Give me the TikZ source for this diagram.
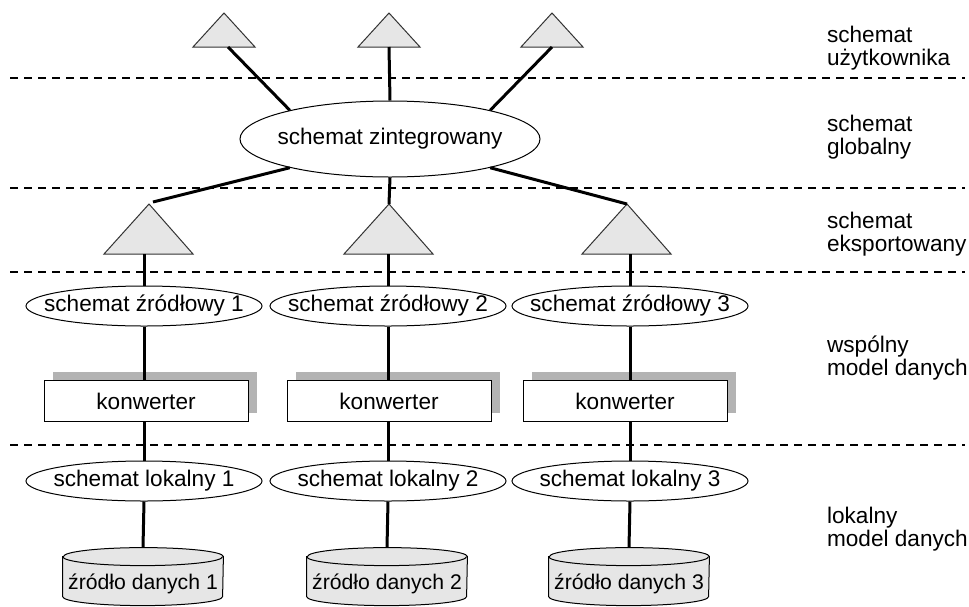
\documentclass[tikz,border=0pt]{standalone}
\usepackage{fontspec}
\setmainfont{Liberation Sans}
\usetikzlibrary{shapes.geometric,shadows,backgrounds}
\definecolor{trifill}{HTML}{E6E6E6}
\definecolor{shadowgray}{HTML}{B3B3B3}

\begin{document}
\begin{tikzpicture}[x=0.5pt, y=-0.5pt,
font=\fontsize{11.3}{11.5}\selectfont,
ovalnode/.style={ellipse, draw=black, line width=0.5pt, fill=white, inner xsep=-10pt, inner ysep=0pt, minimum width=118pt, minimum height=20pt},
globnode/.style={ellipse, draw=black, line width=0.5pt, inner xsep=-10pt, inner ysep=0pt, minimum width=150pt, minimum height=38pt},
convnode/.style={rectangle, draw=black, line width=0.5pt, fill=white, minimum width=102pt, minimum height=20.5pt, drop shadow={shadow xshift=4.5pt, shadow yshift=4.5pt, fill=shadowgray, opacity=1}},
dbnode/.style={rectangle, inner xsep=0pt, minimum width=80pt, minimum height=36pt, font=\fontsize{10.6}{11}\selectfont},
dbshape/.style={fill=trifill, draw=black, line width=0.5pt},
trishape/.style={fill=trifill, draw=black!80, line width=0.5pt},
labelnode/.style={anchor=west, align=left},
link/.style={line width=1.5pt},
layerline/.style={line width=1pt, dash pattern=on 4pt off 3pt},
]
\useasboundingbox (0,0) rectangle (969,606);

%Layers
\draw[layerline] (10,78) -- (965,78);
\draw[layerline] (10,188) -- (965,188);
\draw[layerline] (10,272) -- (965,272);
\draw[layerline] (10,445) -- (965,445);

%Nodes
\node[globnode]   (glob)   at (390,139)  {schemat zintegrowany};
\node[ovalnode]   (src1)   at (144,306)  {schemat źródłowy 1};
\node[ovalnode]   (src2)   at (388,306)  {schemat źródłowy 2};
\node[ovalnode]   (src3)   at (630,306)  {schemat źródłowy 3};
\node[convnode]   (conv1)  at (146,401)  {konwerter};
\node[convnode]   (conv2)  at (389,401)  {konwerter};
\node[convnode]   (conv3)  at (625,401)  {konwerter};
\node[ovalnode]   (loc1)   at (144,481)  {schemat lokalny 1};
\node[ovalnode]   (loc2)   at (388,481)  {schemat lokalny 2};
\node[ovalnode]   (loc3)   at (630,481)  {schemat lokalny 3};
\node[dbnode]     (db1)    at (143,584)  {źródło danych 1};
\node[dbnode]     (db2)    at (387,584)  {źródło danych 2};
\node[dbnode]     (db3)    at (629,584)  {źródło danych 3};

\node[labelnode]  (lab1)   at (820,48)   {schemat\\użytkownika};
\node[labelnode]  (lab2)   at (820,137)  {schemat\\globalny};
\node[labelnode]  (lab3)   at (820,234)  {schemat\\eksportowany};
\node[labelnode]  (lab4)   at (820,358)  {wspólny\\model danych};
\node[labelnode]  (lab5)   at (820,529)  {lokalny\\model danych};

%Cylinders
\begin{scope}[on background layer]
\filldraw[dbshape] ([yshift=-4.5pt]db1.north west) -- ([yshift=-24.5pt]db1.north west) arc[start angle=180, end angle=360, x radius=40pt, y radius=4.5pt] -- ([yshift=-4.5pt]db1.north east) arc[start angle=0, end angle=180, x radius=40pt, y radius=4.5pt] -- cycle;
\draw[line width=0.5pt] ([yshift=-4.5pt]db1.north west) arc[start angle=180, end angle=360, x radius=40pt, y radius=4.5pt];
\filldraw[dbshape] ([yshift=-4.5pt]db2.north west) -- ([yshift=-24.5pt]db2.north west) arc[start angle=180, end angle=360, x radius=40pt, y radius=4.5pt] -- ([yshift=-4.5pt]db2.north east) arc[start angle=0, end angle=180, x radius=40pt, y radius=4.5pt] -- cycle;
\draw[line width=0.5pt] ([yshift=-4.5pt]db2.north west) arc[start angle=180, end angle=360, x radius=40pt, y radius=4.5pt];
\filldraw[dbshape] ([yshift=-4.5pt]db3.north west) -- ([yshift=-24.5pt]db3.north west) arc[start angle=180, end angle=360, x radius=40pt, y radius=4.5pt] -- ([yshift=-4.5pt]db3.north east) arc[start angle=0, end angle=180, x radius=40pt, y radius=4.5pt] -- cycle;
\draw[line width=0.5pt] ([yshift=-4.5pt]db3.north west) arc[start angle=180, end angle=360, x radius=40pt, y radius=4.5pt];
\end{scope}

%Triangles
\filldraw[trishape] (193,47) -- (224,13) -- (255,47) -- cycle;
\filldraw[trishape] (358,47) -- (389,13) -- (420,47) -- cycle;
\filldraw[trishape] (521,47) -- (552,13) -- (583,47) -- cycle;
\filldraw[trishape] (104,254) -- (149,204) -- (193,254) -- cycle;
\filldraw[trishape] (344,254) -- (389,204) -- (433,254) -- cycle;
\filldraw[trishape] (582,254) -- (627,204) -- (671,254) -- cycle;
\coordinate (usr1) at (228,47);
\coordinate (usr2) at (389,47);
\coordinate (usr3) at (552,47);
\coordinate (exp1) at (153,202);
\coordinate (exp2) at (389,204);
\coordinate (exp3) at (627,204);
\coordinate (expb1) at (144,254);
\coordinate (expb2) at (388,254);
\coordinate (expb3) at (630,254);

%Lines
\draw[link] (usr1) -- (glob.164);
\draw[link] (usr2) -- (glob.north);
\draw[link] (usr3) -- (glob.16);
\draw[link] (glob.196) -- (exp1);
\draw[link] (glob.south) -- (exp2);
\draw[link] (glob.344) -- (exp3);
\draw[link] (expb1) -- (src1.north);
\draw[link] (expb2) -- (src2.north);
\draw[link] (expb3) -- (src3.north);
\draw[link] (src1.south) -- (src1.south |- conv1.north);
\draw[link] (src2.south) -- (src2.south |- conv2.north);
\draw[link] (src3.south) -- (src3.south |- conv3.north);
\draw[link] (src1.south |- conv1.south) -- (loc1.north);
\draw[link] (src2.south |- conv2.south) -- (loc2.north);
\draw[link] (src3.south |- conv3.south) -- (loc3.north);
\draw[link] (loc1.south) -- (db1.north);
\draw[link] (loc2.south) -- (db2.north);
\draw[link] (loc3.south) -- (db3.north);
\end{tikzpicture}
\end{document}
